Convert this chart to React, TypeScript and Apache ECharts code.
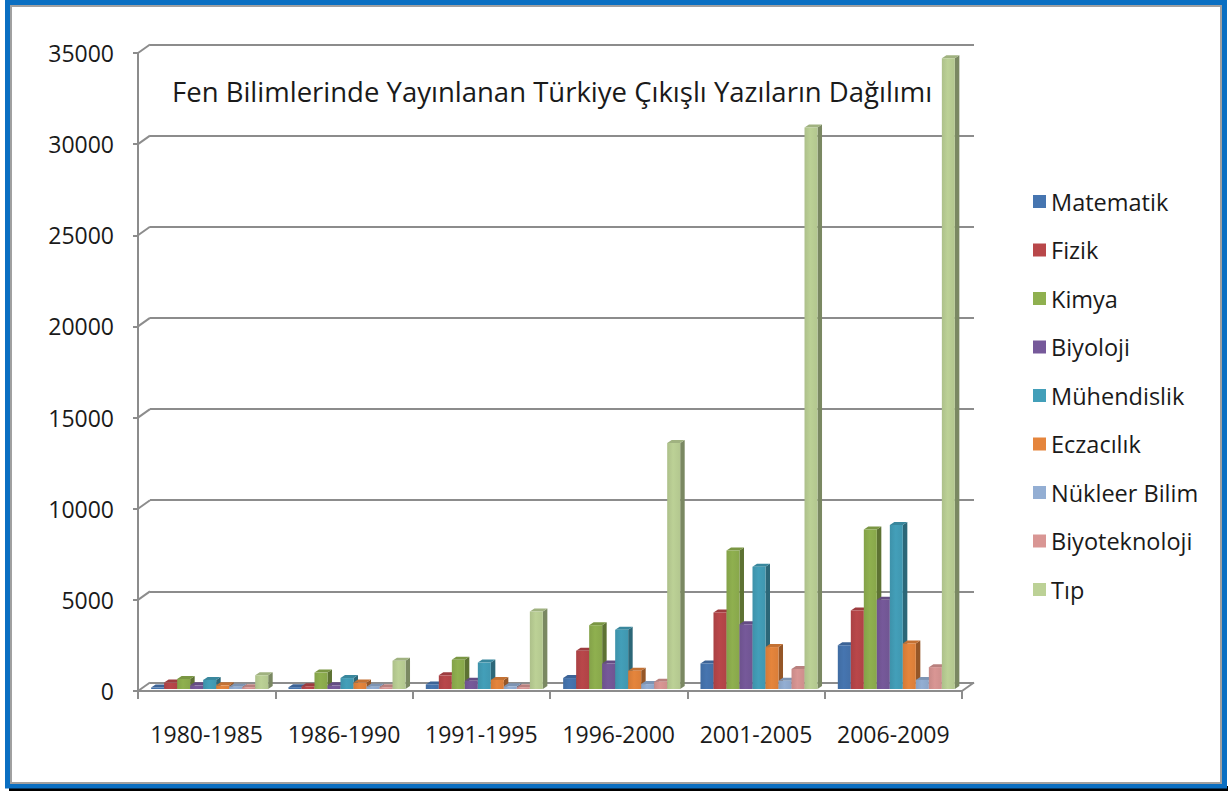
import React, { useEffect, useRef } from "react";
import * as echarts from "echarts";

const categories = ["1980-1985", "1986-1990", "1991-1995", "1996-2000", "2001-2005", "2006-2009"];
const seriesNames = ["Matematik", "Fizik", "Kimya", "Biyoloji", "Mühendislik", "Eczacılık", "Nükleer Bilim", "Biyoteknoloji", "Tıp"];

const matematik = [80, 100, 250, 600, 1400, 2400];
const fizik = [350, 150, 750, 2100, 4200, 4300];
const kimya = [550, 900, 1600, 3500, 7600, 8750];
const biyoloji = [200, 200, 450, 1400, 3550, 4900];
const muhendislik = [500, 600, 1450, 3250, 6700, 9000];
const eczacilik = [200, 350, 500, 1000, 2300, 2500];
const nukleerBilim = [130, 130, 150, 270, 450, 500];
const biyoteknoloji = [100, 100, 100, 400, 1100, 1200];
const tip = [750, 1550, 4250, 13500, 30800, 34600];

const seriesValues = [matematik, fizik, kimya, biyoloji, muhendislik, eczacilik, nukleerBilim, biyoteknoloji, tip];

const yTicks = [0, 5000, 10000, 15000, 20000, 25000, 30000, 35000];

const colors = ["#4675b0", "#b9474a", "#8fb04f", "#76599a", "#439fb9", "#e5853c", "#93aed3", "#d99694", "#bcd196"];

const TITLE = "Fen Bilimlerinde Yayınlanan Türkiye Çıkışlı Yazıların Dağılımı";

const FONT = "'Open Sans', Lato, sans-serif";
const GRID_COLOR = "#8c8c8c";
const WALL_DX = 12;
const WALL_DY = -8.5;
const BAR_FRAC = 0.0947;
const BAR_SHIFT_X = 3;
const BAR_SHIFT_Y = -2;
const BAR_DX = 4.5;
const BAR_DY = -3;

function shade(hex: string, f: number): string {
  const n = parseInt(hex.slice(1), 16);
  let r = (n >> 16) & 255, g = (n >> 8) & 255, b = n & 255;
  if (f < 0) {
    r = Math.round(r * (1 + f)); g = Math.round(g * (1 + f)); b = Math.round(b * (1 + f));
  } else {
    r = Math.round(r + (255 - r) * f); g = Math.round(g + (255 - g) * f); b = Math.round(b + (255 - b) * f);
  }
  return `rgb(${r},${g},${b})`;
}

function makeBarRender(idx: number) {
  const color = colors[idx];
  return (params: any, api: any) => {
    const ci = api.value(0);
    const v = api.value(1);
    const base = api.coord([ci, 0]);
    const top = api.coord([ci, v]);
    const band = api.size([1, 0])[0];
    const bw = band * BAR_FRAC;
    const x0 = base[0] - 4.5 * bw + idx * bw + BAR_SHIFT_X;
    const x1 = x0 + bw;
    const yb = base[1] + BAR_SHIFT_Y;
    const yt = top[1] + BAR_SHIFT_Y;
    return {
      type: "group",
      children: [
        {
          type: "polygon",
          shape: { points: [[x1, yb], [x1 + BAR_DX, yb + BAR_DY], [x1 + BAR_DX, yt + BAR_DY], [x1, yt]] },
          style: { fill: shade(color, -0.35) },
        },
        {
          type: "polygon",
          shape: { points: [[x0, yt], [x1, yt], [x1 + BAR_DX, yt + BAR_DY], [x0 + BAR_DX, yt + BAR_DY]] },
          style: { fill: shade(color, -0.15) },
        },
        {
          type: "rect",
          shape: { x: x0, y: yt, width: bw, height: yb - yt },
          style: {
            fill: new echarts.graphic.LinearGradient(0, 0, 1, 0, [
              { offset: 0, color: shade(color, -0.08) },
              { offset: 0.45, color: color },
              { offset: 1, color: shade(color, -0.05) },
            ]),
          },
        },
      ],
    };
  };
}

function frameRender(params: any, api: any) {
  const v = api.value(1);
  const p = api.coord([0, v]);
  const band = api.size([1, 0])[0];
  const xl = p[0] - band / 2;
  const children: any[] = [
    {
      type: "line",
      shape: { x1: xl, y1: p[1], x2: xl + WALL_DX, y2: p[1] + WALL_DY },
      style: { stroke: GRID_COLOR, lineWidth: 2 },
    },
  ];
  if (v === 0) {
    const xr = xl + band * categories.length;
    children.push({
      type: "line",
      shape: { x1: xr, y1: p[1], x2: xr + WALL_DX, y2: p[1] + WALL_DY },
      style: { stroke: GRID_COLOR, lineWidth: 2 },
    });
  }
  return { type: "group", children };
}

export default function App() {
  const ref = useRef<HTMLDivElement>(null);
  useEffect(() => {
    if (!ref.current) return;
    const chart = echarts.init(ref.current, undefined, { renderer: "svg" });
    const barSeries = seriesNames.map((name, i) => ({
      type: "custom",
      name,
      xAxisIndex: 0,
      yAxisIndex: 0,
      z: 3,
      itemStyle: { color: colors[i] },
      renderItem: makeBarRender(i),
      data: seriesValues[i].map((v, ci) => [ci, v]),
      encode: { x: 0, y: 1 },
    }));
    chart.setOption({
      animation: false,
      backgroundColor: "#ffffff",
      textStyle: { fontFamily: FONT },
      graphic: [
        {
          type: "rect",
          shape: { x: 9, y: 786, width: 1219, height: 5 },
          style: { fill: "#000000" },
          z: 0,
        },
        {
          type: "rect",
          shape: { x: 7.5, y: 2.5, width: 1217, height: 783.5 },
          style: { fill: "none", stroke: "#0a6fc2", lineWidth: 5 },
          z: 1,
        },
        {
          type: "rect",
          shape: { x: 11, y: 6, width: 1210, height: 777 },
          style: { fill: "none", stroke: "#a0a0a0", lineWidth: 2 },
          z: 1,
        },
        {
          type: "text",
          x: 172,
          y: 91,
          style: { text: TITLE, font: `27.5px ${FONT}`, fill: "#1a1a1a", textVerticalAlign: "middle" },
          z: 5,
        },
      ],
      legend: {
        data: seriesNames,
        orient: "vertical",
        left: 1028,
        top: 184.5,
        icon: "rect",
        itemWidth: 13,
        itemHeight: 13,
        itemGap: 24.5,
        textStyle: { fontFamily: FONT, fontSize: 23.5, lineHeight: 22, color: "#1a1a1a" },
      },
      grid: [
        { left: 138, top: 53, width: 824, height: 638 },
        { left: 150, top: 44.5, width: 824, height: 638 },
      ],
      xAxis: [
        {
          type: "category",
          gridIndex: 0,
          data: categories,
          boundaryGap: true,
          axisLine: { show: true, lineStyle: { color: GRID_COLOR, width: 2 } },
          axisTick: { show: true, length: 8, lineStyle: { color: GRID_COLOR, width: 2 } },
          axisLabel: { fontFamily: FONT, fontSize: 23, color: "#1a1a1a", margin: 31, interval: 0 },
          splitLine: { show: false },
        },
        {
          type: "category",
          gridIndex: 1,
          data: categories,
          show: false,
        },
      ],
      yAxis: [
        {
          type: "value",
          gridIndex: 0,
          min: 0,
          max: 35000,
          interval: 5000,
          axisLine: { show: true, lineStyle: { color: GRID_COLOR, width: 2 } },
          axisTick: { show: true, length: 5, lineStyle: { color: GRID_COLOR, width: 2 } },
          axisLabel: {
            fontFamily: FONT,
            fontSize: 23,
            color: "#1a1a1a",
            margin: 24,
            formatter: (v: number) => String(v),
          },
          splitLine: { show: false },
        },
        {
          type: "value",
          gridIndex: 1,
          min: 0,
          max: 35000,
          interval: 5000,
          axisLine: { show: false },
          axisTick: { show: false },
          axisLabel: { show: false },
          splitLine: { show: true, lineStyle: { color: GRID_COLOR, width: 2 } },
        },
      ],
      series: [
        {
          type: "custom",
          name: "frame",
          xAxisIndex: 0,
          yAxisIndex: 0,
          silent: true,
          z: 1,
          renderItem: frameRender,
          data: yTicks.map((v) => [0, v]),
          encode: { x: 0, y: 1 },
        },
        ...barSeries,
      ],
    });
    return () => chart.dispose();
  }, []);
  return (
    <div
      ref={ref}
      style={{ position: "absolute", left: 0, top: 0, width: 1228, height: 791, background: "#fff" }}
    />
  );
}
